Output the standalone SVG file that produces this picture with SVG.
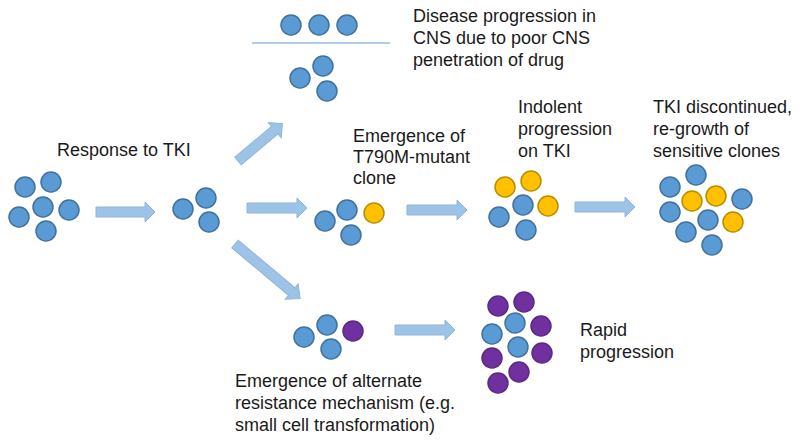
<svg xmlns="http://www.w3.org/2000/svg" width="800" height="444" viewBox="0 0 800 444">
<defs>
<style>
.b{fill:#5b9bd5;stroke:#41719c;stroke-width:1.5}
.y{fill:#ffc000;stroke:#bc8c00;stroke-width:1.5}
.p{fill:#7030a0;stroke:#5b2883;stroke-width:1.5}
.t{font-family:"Liberation Sans",Arial,sans-serif;font-size:18px;fill:#1a1a1a}
.ar{fill:#9dc3e6;stroke:#8eb4dc;stroke-width:1}
</style>
<path id="arr" d="M0,-5 H50 V-10 L60,0 L50,10 V5 H0 Z"/>
</defs>
<rect width="800" height="444" fill="#ffffff"/>
<g id="connectors">
<path class="ar" d="M0,-5 H49 V-10 L59,0 L49,10 V5 H0 Z" transform="translate(96,212)"/>
<path class="ar" d="M0,-5 H48 V-10 L58,0 L48,10 V5 H0 Z" transform="translate(238,161) rotate(-40)"/>
<use href="#arr" class="ar" transform="translate(247,208)"/>
<path class="ar" d="M0,-5 H74 V-10 L85,0 L74,10 V5 H0 Z" transform="translate(235,244) rotate(40)"/>
<use href="#arr" class="ar" transform="translate(407,210)"/>
<use href="#arr" class="ar" transform="translate(575,207)"/>
<use href="#arr" class="ar" transform="translate(395,330)"/>
</g>
<g id="initial">
<circle class="b" cx="25" cy="187" r="10"/>
<circle class="b" cx="51" cy="182" r="10"/>
<circle class="b" cx="43" cy="207" r="10"/>
<circle class="b" cx="19" cy="217" r="10"/>
<circle class="b" cx="69" cy="210" r="10"/>
<circle class="b" cx="46" cy="231" r="10"/>
<text class="t" x="57" y="156">Response to TKI</text>
</g>
<g id="response">
<circle class="b" cx="183" cy="209" r="10"/>
<circle class="b" cx="206" cy="198" r="10"/>
<circle class="b" cx="209" cy="222" r="10"/>
</g>
<g id="cns">
<circle class="b" cx="291" cy="25" r="10"/>
<circle class="b" cx="319" cy="25" r="10"/>
<circle class="b" cx="347" cy="25" r="10"/>
<line x1="252" y1="43" x2="390" y2="43" stroke="#5b9bd5" stroke-width="1"/>
<circle class="b" cx="300" cy="78" r="10"/>
<circle class="b" cx="323" cy="66" r="10"/>
<circle class="b" cx="327" cy="91" r="10"/>
<text class="t" x="413" y="22">Disease progression in</text>
<text class="t" x="413" y="44">CNS due to poor CNS</text>
<text class="t" x="413" y="66">penetration of drug</text>
</g>
<g id="t790m">
<circle class="b" cx="325" cy="221" r="10"/>
<circle class="b" cx="347" cy="210" r="10"/>
<circle class="b" cx="351" cy="235" r="10"/>
<circle class="y" cx="374" cy="213" r="10"/>
<text class="t" x="353" y="142">Emergence of</text>
<text class="t" x="353" y="163">T790M-mutant</text>
<text class="t" x="353" y="184">clone</text>
</g>
<g id="indolent">
<circle class="y" cx="505" cy="187" r="10"/>
<circle class="y" cx="531" cy="181" r="10"/>
<circle class="b" cx="523" cy="205" r="10"/>
<circle class="y" cx="548" cy="206" r="10"/>
<circle class="b" cx="499" cy="217" r="10"/>
<circle class="b" cx="526" cy="230" r="10"/>
<text class="t" x="518" y="113">Indolent</text>
<text class="t" x="518" y="135">progression</text>
<text class="t" x="518" y="157">on TKI</text>
</g>
<g id="regrowth">
<circle class="b" cx="670" cy="187" r="10"/>
<circle class="b" cx="696" cy="175" r="10"/>
<circle class="y" cx="692" cy="201" r="10"/>
<circle class="y" cx="716" cy="196" r="10"/>
<circle class="b" cx="742" cy="199" r="10"/>
<circle class="b" cx="670" cy="212" r="10"/>
<circle class="b" cx="708" cy="220" r="10"/>
<circle class="y" cx="733" cy="222" r="10"/>
<circle class="b" cx="686" cy="232" r="10"/>
<circle class="b" cx="712" cy="245" r="10"/>
<text class="t" x="653" y="113">TKI discontinued,</text>
<text class="t" x="653" y="135">re-growth of</text>
<text class="t" x="653" y="157">sensitive clones</text>
</g>
<g id="alternate">
<circle class="b" cx="304" cy="337" r="10"/>
<circle class="b" cx="327" cy="325" r="10"/>
<circle class="b" cx="331" cy="349" r="10"/>
<circle class="p" cx="353" cy="331" r="10"/>
<text class="t" x="235" y="387">Emergence of alternate</text>
<text class="t" x="235" y="409">resistance mechanism (e.g.</text>
<text class="t" x="235" y="431">small cell transformation)</text>
</g>
<g id="rapid">
<circle class="p" cx="498" cy="306" r="10"/>
<circle class="p" cx="524" cy="302" r="10"/>
<circle class="b" cx="515" cy="323" r="10"/>
<circle class="p" cx="541" cy="326" r="10"/>
<circle class="b" cx="492" cy="334" r="10"/>
<circle class="b" cx="518" cy="347" r="10"/>
<circle class="p" cx="492" cy="358" r="10"/>
<circle class="p" cx="542" cy="353" r="10"/>
<circle class="p" cx="519" cy="372" r="10"/>
<circle class="p" cx="498" cy="383" r="10"/>
<text class="t" x="580" y="336">Rapid</text>
<text class="t" x="580" y="358">progression</text>
</g>
</svg>
